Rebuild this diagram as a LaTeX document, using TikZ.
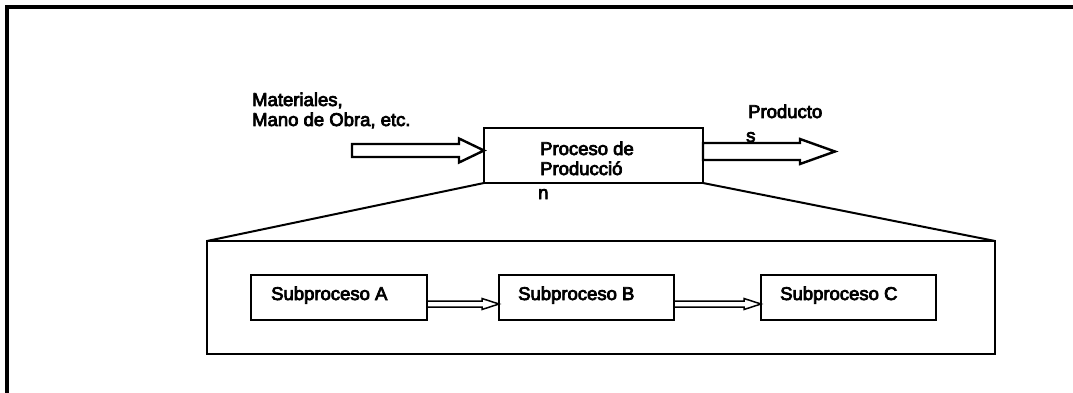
\documentclass[tikz,border=0pt]{standalone}
\usepackage{fontspec}
\setmainfont{Liberation Sans}
\newfontfamily\lblfont{Liberation Sans}[FakeBold=4]
\usetikzlibrary{calc}

% Horizontal hollow block arrow: style, start, tip, half shaft, half head, head length
\newcommand{\blockarrow}[6]{%
  \draw[#1] let \p1=(#2), \p2=(#3) in
    (\x1,\y1+#4) -- (\x2-#6,\y1+#4) -- (\x2-#6,\y1+#5) -- (\x2,\y1)
    -- (\x2-#6,\y1-#5) -- (\x2-#6,\y1-#4) -- (\x1,\y1-#4) -- cycle;}

\tikzset{
  box/.style={draw=black, line width=2pt, inner sep=0pt, outer sep=0pt,
              minimum width=#1, minimum height=45pt},
  lbl/.style={font=\lblfont\fontsize{18.5}{21}\selectfont, inner sep=0pt, anchor=base west},
  bigarrow/.style={draw=black, fill=white, line width=2.4pt, line join=miter},
  smallarrow/.style={draw=black, fill=white, line width=1.5pt, line join=miter},
  frameline/.style={line width=3.5pt},
  zoomline/.style={line width=2pt}
}

\begin{document}
\begin{tikzpicture}[x=1pt, y=-1pt]
  \useasboundingbox (0,0) rectangle (1073,393);

  % page frame (top and left edges)
  \draw[frameline] (7,393) -- (7,7) -- (1073,7);

  % production process
  \node[box=219pt, minimum height=55pt] (proc) at (593.5,155.5) {};
  \node[lbl] (proc1) at (540,155) {Proceso de};
  \node[lbl] (proc2) at (540,175) {Producció};
  \node[lbl] (proc3) at (538,199) {n};

  % inputs
  \node[lbl] (mat1) at (252,106) {Materiales,};
  \node[lbl] (mat2) at (252,126) {Mano de Obra, etc.};
  \coordinate (inStart) at (352,150.5);
  \blockarrow{bigarrow}{inStart}{proc.west}{6.5pt}{12pt}{25pt}

  % outputs
  \node[lbl] (out1) at (748,118) {Producto};
  \node[lbl] (out2) at (746,142) {s};
  \coordinate (outTip) at (835,151.5);
  \blockarrow{bigarrow}{[yshift=4pt]proc.east}{outTip}{8.5pt}{12.5pt}{35pt}

  % detail of the subprocesses
  \node[box=788pt, minimum height=113pt] (detail) at (601,297.5) {};
  \draw[zoomline] (proc.south west) -- (detail.north west);
  \draw[zoomline] (proc.south east) -- (detail.north east);

  \node[box=176pt] (subA) at (339,297.5) {};
  \node[box=175pt] (subB) at (586.5,297.5) {};
  \node[box=175pt] (subC) at (848.5,297.5) {};
  \node[lbl] (labA) at (271,300) {Subproceso A};
  \node[lbl] (labB) at (518,300) {Subproceso B};
  \node[lbl] (labC) at (780,300) {Subproceso C};

  \blockarrow{smallarrow}{[yshift=-6.5pt]subA.east}{subB.west}{3pt}{5.5pt}{17pt}
  \blockarrow{smallarrow}{[yshift=-6.5pt]subB.east}{subC.west}{3pt}{5.5pt}{17pt}
\end{tikzpicture}
\end{document}
